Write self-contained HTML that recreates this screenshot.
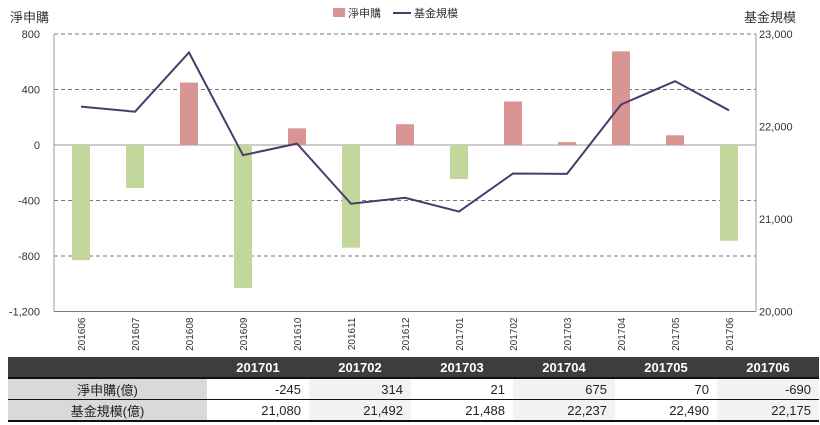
<!DOCTYPE html>
<html><head><meta charset="utf-8"><style>
body{margin:0;width:820px;height:425px;background:#fff;overflow:hidden;font-family:"Liberation Sans","Noto Sans CJK TC",sans-serif}
svg{position:absolute;left:0;top:0;font-family:"Liberation Sans","Noto Sans CJK TC",sans-serif}
table{position:absolute;left:8px;top:357px;border-collapse:collapse;font-size:13px;width:811px}
td{height:20px;padding:0 8px;text-align:right;color:#222}
tr.h td{background:#3d3d3d;color:#fff;font-weight:bold;text-align:center}
td.l{background:#d9d9d9;text-align:center;width:183px}
tr.r1 td{border-top:2px solid #111;border-bottom:1px solid #111}
tr.r2 td{border-bottom:2px solid #111}
tr.r1 td:nth-child(odd):not(.l),tr.r2 td:nth-child(odd):not(.l){background:#f2f2f2}
</style></head><body>
<svg id="chart" width="820" height="356"></svg>
<table>
<tr class="h"><td class="l" style="background:#3d3d3d"></td><td>201701</td><td>201702</td><td>201703</td><td>201704</td><td>201705</td><td>201706</td></tr>
<tr class="r1"><td class="l">淨申購(億)</td><td>-245</td><td>314</td><td>21</td><td>675</td><td>70</td><td>-690</td></tr>
<tr class="r2"><td class="l">基金規模(億)</td><td>21,080</td><td>21,492</td><td>21,488</td><td>22,237</td><td>22,490</td><td>22,175</td></tr>
</table>
<script>
const categories=["201606","201607","201608","201609","201610","201611","201612","201701","201702","201703","201704","201705","201706"];
const netFlow=[-830,-310,450,-1030,120,-740,150,-245,314,21,675,70,-690];
const fundSize=[22215,22160,22800,21690,21815,21165,21230,21080,21492,21488,22237,22490,22175];
const leftTicks=[800,400,0,-400,-800,-1200];
const rightTicks=[23000,22000,21000,20000];
const svg=document.getElementById('chart');
const NS="http://www.w3.org/2000/svg";
const X0=54,X1=756,Y0=34,Y1=311.5;
const yL=v=>Y0+(800-v)/2000*(Y1-Y0);
const yR=v=>Y0+(23000-v)/3000*(Y1-Y0);
const bw=(X1-X0)/categories.length;
const xC=i=>X0+bw*(i+0.5);
function mk(tag,attrs,txt){const e=document.createElementNS(NS,tag);for(const k in attrs)e.setAttribute(k,attrs[k]);if(txt!==undefined)e.textContent=txt;svg.appendChild(e);return e;}
leftTicks.forEach(t=>{
  const g=mk('line',{x1:X0,x2:X1,y1:yL(t),y2:yL(t),stroke:t===0?'#999':'#777','stroke-dasharray':t===0||t===-1200?'':'4,3','stroke-width':1});
  
  
  const l=mk('text',{x:X0-14,y:yL(t)+4,'text-anchor':'end','font-size':11,fill:'#333'},t.toLocaleString());
  
  
});
rightTicks.forEach(t=>{
  const l=mk('text',{x:X1+3,y:yR(t)+4,'font-size':11,fill:'#333'},t.toLocaleString());
  
  
});
const ax=mk('line',{x1:X0,x2:X0,y1:Y0,y2:Y1,stroke:'#999'});


const ax2=mk('line',{x1:X1,x2:X1,y1:Y0,y2:Y1,stroke:'#999'});


categories.forEach((c,i)=>{
  const v=netFlow[i];
  const b=mk('rect',{x:xC(i)-9,width:18,y:Math.min(yL(v),yL(0)),height:Math.abs(yL(v)-yL(0)),fill:v>=0?'#d99594':'#c3d69b'});
  
  
  const t=mk('text',{x:0,y:0,'font-size':10,fill:'#333','text-anchor':'end',transform:`translate(${xC(i)+4},${Y1+6}) rotate(-90)`},c);
  
  
});
const line=mk('polyline',{points:fundSize.map((v,i)=>xC(i)+','+yR(v)).join(' '),fill:'none',stroke:'#4b3a6a','stroke-width':2});


const t1=mk('text',{x:10,y:22,'font-size':13,fill:'#333'},'淨申購');


const t2=mk('text',{x:744,y:22,'font-size':13,fill:'#333'},'基金規模');


const lg1=mk('rect',{x:333,y:8,width:12,height:9,fill:'#d99594'});


const lt1=mk('text',{x:348,y:17,'font-size':11,fill:'#333'},'淨申購');


const lg2=mk('line',{x1:393,x2:411,y1:13,y2:13,stroke:'#4b3a6a','stroke-width':2});


const lt2=mk('text',{x:414,y:17,'font-size':11,fill:'#333'},'基金規模');


</script>
</body></html>
